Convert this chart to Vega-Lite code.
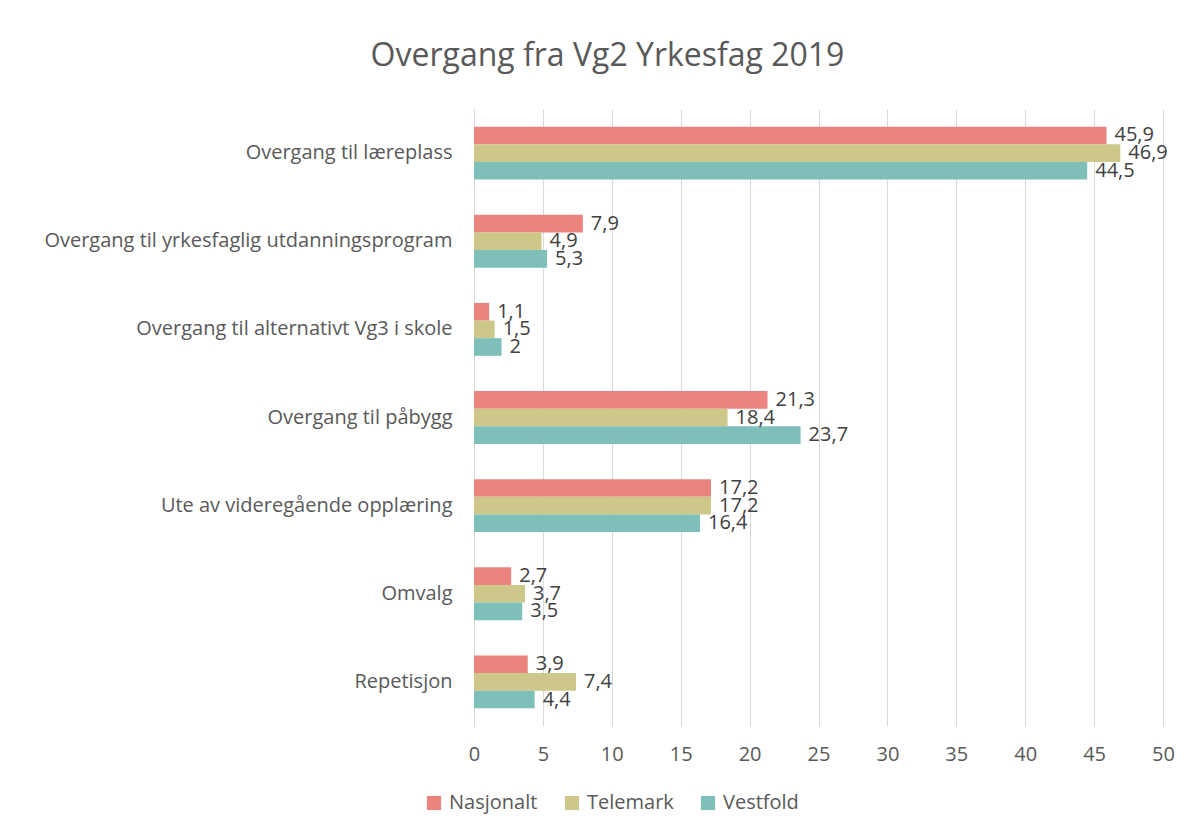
{
  "$schema": "https://vega.github.io/schema/vega-lite/v6.json",
  "width": 689,
  "height": 617,
  "autosize": "none",
  "padding": {"left": 474, "top": 109, "right": 32, "bottom": 113},
  "background": "white",
  "title": {"text": "Overgang fra Vg2 Yrkesfag 2019", "fontSize": 32, "font": "Open Sans", "fontWeight": "normal", "color": "#595959", "anchor": "middle", "dx": -211, "offset": 36},
  "config": {
    "locale": {"number": {"decimal": ",", "thousands": " ", "grouping": [3], "currency": ["", " kr"]}},
    "view": {"stroke": null},
    "font": "Open Sans"
  },
  "data": {"values": [
    {"kategori": "Overgang til læreplass", "serie": "Nasjonalt", "verdi": 45.9},
    {"kategori": "Overgang til læreplass", "serie": "Telemark", "verdi": 46.9},
    {"kategori": "Overgang til læreplass", "serie": "Vestfold", "verdi": 44.5},
    {"kategori": "Overgang til yrkesfaglig utdanningsprogram", "serie": "Nasjonalt", "verdi": 7.9},
    {"kategori": "Overgang til yrkesfaglig utdanningsprogram", "serie": "Telemark", "verdi": 4.9},
    {"kategori": "Overgang til yrkesfaglig utdanningsprogram", "serie": "Vestfold", "verdi": 5.3},
    {"kategori": "Overgang til alternativt Vg3 i skole", "serie": "Nasjonalt", "verdi": 1.1},
    {"kategori": "Overgang til alternativt Vg3 i skole", "serie": "Telemark", "verdi": 1.5},
    {"kategori": "Overgang til alternativt Vg3 i skole", "serie": "Vestfold", "verdi": 2},
    {"kategori": "Overgang til påbygg", "serie": "Nasjonalt", "verdi": 21.3},
    {"kategori": "Overgang til påbygg", "serie": "Telemark", "verdi": 18.4},
    {"kategori": "Overgang til påbygg", "serie": "Vestfold", "verdi": 23.7},
    {"kategori": "Ute av videregående opplæring", "serie": "Nasjonalt", "verdi": 17.2},
    {"kategori": "Ute av videregående opplæring", "serie": "Telemark", "verdi": 17.2},
    {"kategori": "Ute av videregående opplæring", "serie": "Vestfold", "verdi": 16.4},
    {"kategori": "Omvalg", "serie": "Nasjonalt", "verdi": 2.7},
    {"kategori": "Omvalg", "serie": "Telemark", "verdi": 3.7},
    {"kategori": "Omvalg", "serie": "Vestfold", "verdi": 3.5},
    {"kategori": "Repetisjon", "serie": "Nasjonalt", "verdi": 3.9},
    {"kategori": "Repetisjon", "serie": "Telemark", "verdi": 7.4},
    {"kategori": "Repetisjon", "serie": "Vestfold", "verdi": 4.4}
  ]},
  "encoding": {
    "y": {
      "field": "kategori", "type": "nominal", "sort": null, "title": null,
      "scale": {"paddingInner": 0.4, "paddingOuter": 0.2},
      "axis": {"labelFontSize": 20, "labelColor": "#595959", "labelPadding": 22, "ticks": false, "domainColor": "#d9d9d9", "labelLimit": 500}
    },
    "yOffset": {"field": "serie", "type": "nominal", "sort": ["Nasjonalt", "Telemark", "Vestfold"], "scale": {"paddingInner": 0, "paddingOuter": 0}},
    "x": {
      "field": "verdi", "type": "quantitative", "title": null,
      "scale": {"domain": [0, 50], "nice": false},
      "axis": {"values": [0, 5, 10, 15, 20, 25, 30, 35, 40, 45, 50], "labelFontSize": 20, "labelColor": "#595959", "gridColor": "#d9d9d9", "domain": false, "ticks": false, "labelPadding": 18, "labelFlush": false, "format": "d"}
    }
  },
  "layer": [
    {
      "mark": {"type": "bar"},
      "encoding": {
        "color": {
          "field": "serie", "type": "nominal", "title": null,
          "scale": {"domain": ["Nasjonalt", "Telemark", "Vestfold"], "range": ["#EB847F", "#CEC78A", "#7EBFB9"]},
          "legend": {"orient": "none", "direction": "horizontal", "legendX": -50, "legendY": 684, "symbolType": "square", "symbolSize": 200, "labelFontSize": 20, "labelColor": "#595959", "columnPadding": 24, "labelOffset": 5, "symbolStrokeWidth": 0}
        }
      }
    },
    {
      "mark": {"type": "text", "align": "left", "baseline": "middle", "dx": 8, "fontSize": 20, "color": "#404040"},
      "encoding": {
        "text": {"field": "verdi", "type": "quantitative", "format": "~r"}
      }
    }
  ]
}
